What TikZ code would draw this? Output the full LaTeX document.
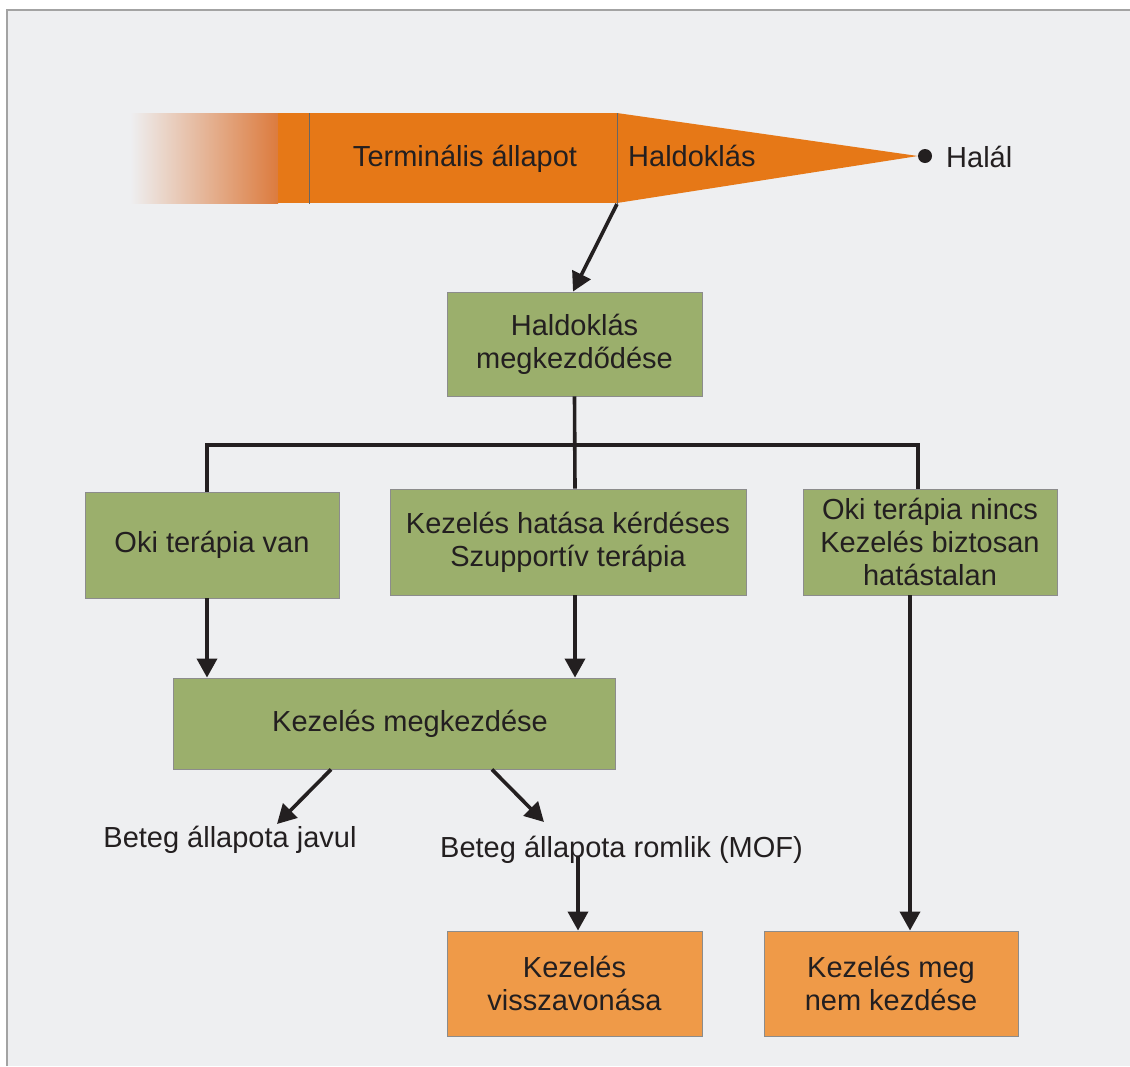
\documentclass[tikz,border=0pt]{standalone}
\usepackage{fontspec}
\setmainfont{Liberation Sans}
\usetikzlibrary{arrows.meta,calc}
\definecolor{panel}{HTML}{EEEFF1}
\definecolor{frame}{HTML}{A3A3A3}
\definecolor{barorange}{HTML}{E67817}
\definecolor{fadeend}{HTML}{DC7B3E}
\definecolor{boxgreen}{HTML}{9BAF6C}
\definecolor{boxorange}{HTML}{EF9A48}
\definecolor{ink}{HTML}{231F20}
\tikzset{
  txt/.style={font=\fontsize{29}{33}\selectfont, text=ink, align=center, inner sep=0pt},
  gbox/.style={txt, draw=black!45, line width=0.9pt, fill=boxgreen, minimum width=#1},
  obox/.style={txt, draw=black!45, line width=0.9pt, fill=boxorange, minimum width=#1},
  conn/.style={draw=ink, line width=3.6pt},
  arr/.style={conn, -{Triangle[length=19pt,width=20pt]}},
}
\begin{document}
\begin{tikzpicture}[x=1pt,y=-1pt]
\useasboundingbox (0,0) rectangle (1130,1066);
\fill[white] (0,0) rectangle (1130,1066);
\fill[panel] (7,10) rectangle (1130,1066);
\draw[frame, line width=2pt] (7,1066) -- (7,10) -- (1130,10);
% top bar
\shade[left color=panel, right color=fadeend] (130,113) rectangle (278,203);
\fill[barorange] (278,113) rectangle (617,203);
\fill[barorange] (617,113) -- (918,156) -- (617,203) -- cycle;
\draw[black!60, line width=0.8pt] (309,113) -- (309,204);
\draw[black!60, line width=0.8pt] (617,113) -- (617,204);
\coordinate (barjoin) at (617,204);
\node[txt] (term) at (465,159) {Terminális állapot};
\node[txt, anchor=west] (hald) at (628,156) {Haldoklás};
\node[circle, fill=ink, inner sep=0pt, minimum size=14pt] (dot) at (925,156) {};
\node[txt, anchor=west] (halal) at (946,157) {Halál};
% boxes
\node[gbox=255pt, minimum height=104pt] (hm) at (574.5,344) {Haldoklás\\megkezdődése};
\node[gbox=254pt, minimum height=106pt] (oki) at (212,545) {Oki terápia van};
\node[gbox=356pt, minimum height=106pt] (keh) at (568,542) {Kezelés hatása kérdéses\\Szupportív terápia};
\node[gbox=254pt, minimum height=106pt] (okn) at (930,542) {Oki terápia nincs\\Kezelés biztosan\\hatástalan};
\node[gbox=442pt, minimum height=91pt] (km) at (394,723.5) {};
\node[txt] (kmlabel) at (410,724) {Kezelés megkezdése};
\node[txt] (jav) at (230,840) {Beteg állapota javul};
\node[txt] (rom) at (621.5,850) {Beteg állapota romlik (MOF)};
\node[obox=255pt, minimum height=105pt] (kv) at (574.5,983.5) {Kezelés\\visszavonása};
\node[obox=254pt, minimum height=105pt] (kmn) at (891,983.5) {Kezelés meg\\nem kezdése};
% connectors
\draw[arr] (barjoin) -- ([xshift=-1.5pt]hm.north);
\coordinate (junc) at (575,445);
\draw[conn] (hm.south) -- ([xshift=7pt]keh.north);
\draw[conn] ([xshift=-5pt]oki.north) |- (junc) -| ([xshift=-12pt]okn.north);
\draw[arr] ([xshift=-5pt]oki.south) -- ([xshift=-5pt]oki.south |- km.north);
\draw[arr] ([xshift=7pt]keh.south) -- ([xshift=7pt]keh.south |- km.north);
\coordinate (javend) at (277,824);
\coordinate (romend) at (544,822);
\draw[arr] ([xshift=-63pt]km.south) -- (javend);
\draw[arr] ([xshift=98pt]km.south) -- (romend);
\coordinate (romstart) at (578,857);
\draw[arr] (romstart) -- ([xshift=3.5pt]kv.north);
\draw[arr] ([xshift=-20pt]okn.south) -- ([xshift=-20pt]okn.south |- kmn.north);
\end{tikzpicture}
\end{document}
